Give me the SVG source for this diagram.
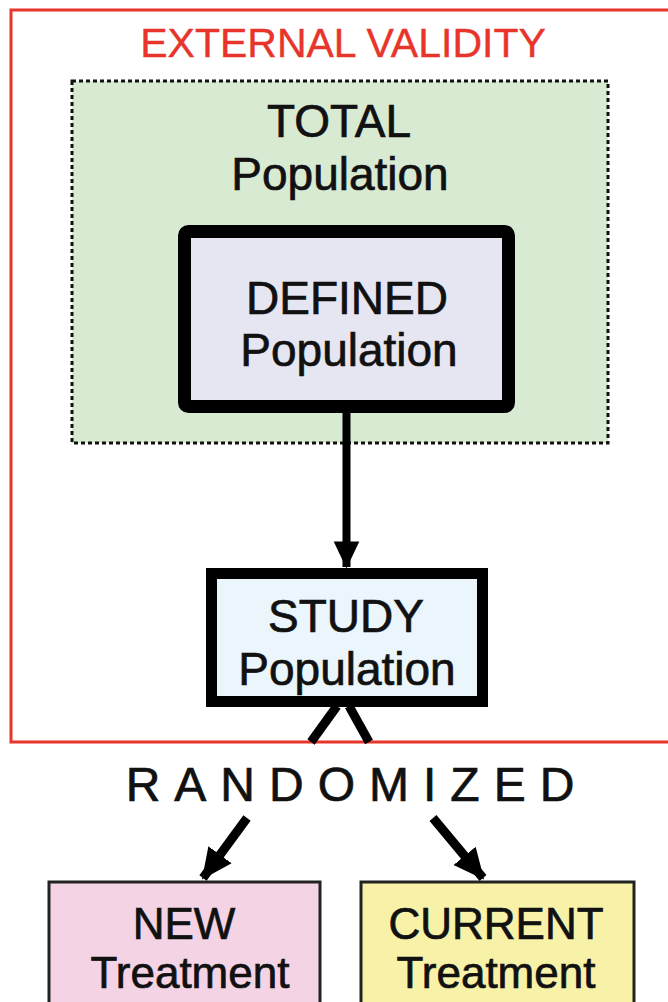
<svg xmlns="http://www.w3.org/2000/svg" width="668" height="1002" viewBox="0 0 668 1002">
<style>
text{font-family:"Liberation Sans",Arial,sans-serif;text-anchor:middle;fill:#111;stroke:#111;stroke-width:0.7}
.big{font-size:46px}
.mid{font-size:44px}
</style>
<defs>
<marker id="ah" markerWidth="4" markerHeight="4" refX="3.2" refY="2" orient="auto" markerUnits="strokeWidth">
<path d="M0,0.4 L3.4,2 L0,3.6 Z" fill="#000"/>
</marker>
</defs>
<rect width="668" height="1002" fill="#fff"/>
<g id="external">
<rect x="11" y="10" width="680" height="732" fill="none" stroke="#e8352b" stroke-width="3"/>
<text x="343" y="57" style="font-size:41px;fill:#e8352b;stroke:#e8352b;stroke-width:0.4">EXTERNAL VALIDITY</text>
</g>
<g id="total">
<rect x="72" y="81" width="536" height="362" fill="#d9ead3" stroke="#111" stroke-width="3" stroke-dasharray="4 3"/>
<text x="339" y="137" class="big">TOTAL</text>
<text x="340" y="190" class="big">Population</text>
</g>
<g id="defined">
<rect x="184.5" y="231.5" width="324" height="175" rx="4" fill="#e6e6f3" stroke="#000" stroke-width="13"/>
<text x="347" y="314" class="big">DEFINED</text>
<text x="349" y="366" class="big">Population</text>
</g>
<g id="study">
<rect x="211.5" y="573.5" width="271" height="128" fill="#eaf5fc" stroke="#000" stroke-width="11"/>
<text x="346" y="632" class="big">STUDY</text>
<text x="347" y="685" class="big">Population</text>
</g>
<g id="randomized">
<text x="357" y="801" style="font-size:48px;letter-spacing:14px">RANDOMIZED</text>
</g>
<g id="new">
<rect x="49" y="882" width="271" height="140" fill="#f4d4e4" stroke="#222" stroke-width="3"/>
<text x="184" y="939" class="mid">NEW</text>
<text x="190" y="988" class="mid">Treatment</text>
</g>
<g id="current">
<rect x="361" y="882" width="273" height="140" fill="#f7f2a8" stroke="#222" stroke-width="3"/>
<text x="496" y="939" class="mid">CURRENT</text>
<text x="496" y="988" class="mid">Treatment</text>
</g>
<g id="connectors" stroke="#000" fill="none">
<line x1="346.5" y1="413" x2="346.5" y2="567" stroke-width="8" marker-end="url(#ah)"/>
<line x1="337" y1="706" x2="311" y2="742" stroke-width="9"/>
<line x1="349" y1="706" x2="369" y2="742" stroke-width="9"/>
<line x1="247" y1="818" x2="203" y2="878" stroke-width="9" marker-end="url(#ah)"/>
<line x1="433" y1="818" x2="483" y2="878" stroke-width="9" marker-end="url(#ah)"/>
</g>
</svg>
